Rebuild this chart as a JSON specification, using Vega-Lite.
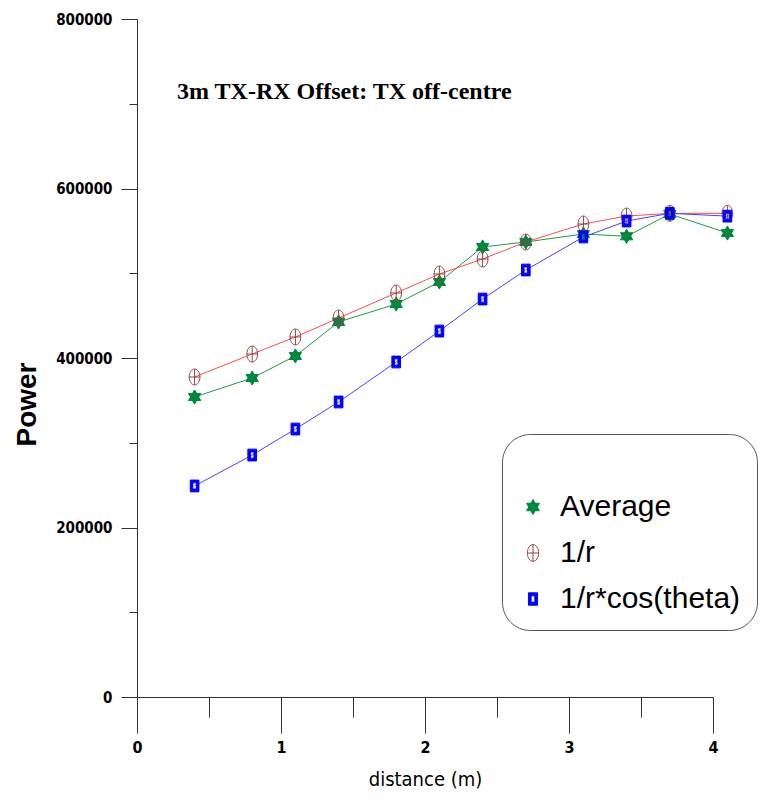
{
  "$schema": "https://vega.github.io/schema/vega-lite/v6.json",
  "width": 576,
  "height": 678,
  "autosize": {"type": "none"},
  "padding": {"left": 137, "top": 19, "right": 59, "bottom": 104},
  "background": "white",
  "title": {
    "text": "3m TX-RX Offset: TX off-centre",
    "anchor": "start",
    "frame": "group",
    "font": "Liberation Serif",
    "fontSize": 24,
    "fontWeight": "bold",
    "color": "black",
    "offset": 0,
    "dx": 40,
    "dy": 92
  },
  "config": {
    "view": {"stroke": null},
    "legend": {
      "orient": "none",
      "legendX": 365,
      "legendY": 415,
      "strokeColor": "#555",
      "strokeWidth": 1,
      "cornerRadius": 28,
      "padding": 16,
      "rowPadding": 16,
      "labelFont": "Liberation Sans",
      "labelFontSize": 30,
      "labelColor": "black",
      "labelLimit": 400,
      "symbolSize": 330,
      "symbolStrokeWidth": 1,
      "labelOffset": 12,
      "titleFontSize": 20,
      "titlePadding": 22
    }
  },
  "data": {
    "values": [
      {"series": "Average", "x": 0.4, "y": 354000},
      {"series": "Average", "x": 0.8, "y": 376400},
      {"series": "Average", "x": 1.1, "y": 402400},
      {"series": "Average", "x": 1.4, "y": 442500},
      {"series": "Average", "x": 1.8, "y": 463700},
      {"series": "Average", "x": 2.1, "y": 489700},
      {"series": "Average", "x": 2.4, "y": 531000},
      {"series": "Average", "x": 2.7, "y": 536900},
      {"series": "Average", "x": 3.1, "y": 546300},
      {"series": "Average", "x": 3.4, "y": 543600},
      {"series": "Average", "x": 3.7, "y": 569900},
      {"series": "Average", "x": 4.1, "y": 547500},
      {"series": "1/r", "x": 0.4, "y": 377600},
      {"series": "1/r", "x": 0.8, "y": 404700},
      {"series": "1/r", "x": 1.1, "y": 424800},
      {"series": "1/r", "x": 1.4, "y": 447200},
      {"series": "1/r", "x": 1.8, "y": 476700},
      {"series": "1/r", "x": 2.1, "y": 499100},
      {"series": "1/r", "x": 2.4, "y": 516800},
      {"series": "1/r", "x": 2.7, "y": 536900},
      {"series": "1/r", "x": 3.1, "y": 558100},
      {"series": "1/r", "x": 3.4, "y": 567500},
      {"series": "1/r", "x": 3.7, "y": 570700},
      {"series": "1/r", "x": 4.1, "y": 570700},
      {"series": "1/r*cos(theta)", "x": 0.4, "y": 249000},
      {"series": "1/r*cos(theta)", "x": 0.8, "y": 285500},
      {"series": "1/r*cos(theta)", "x": 1.1, "y": 316200},
      {"series": "1/r*cos(theta)", "x": 1.4, "y": 348100},
      {"series": "1/r*cos(theta)", "x": 1.8, "y": 395300},
      {"series": "1/r*cos(theta)", "x": 2.1, "y": 431800},
      {"series": "1/r*cos(theta)", "x": 2.4, "y": 469600},
      {"series": "1/r*cos(theta)", "x": 2.7, "y": 503800},
      {"series": "1/r*cos(theta)", "x": 3.1, "y": 542800},
      {"series": "1/r*cos(theta)", "x": 3.4, "y": 561600},
      {"series": "1/r*cos(theta)", "x": 3.7, "y": 570700},
      {"series": "1/r*cos(theta)", "x": 4.1, "y": 567400}
    ]
  },
  "encoding": {
    "x": {
      "field": "x",
      "type": "quantitative",
      "scale": {"domain": [0, 4], "nice": false, "zero": false},
      "axis": {
        "values": [0, 0.5, 1, 1.5, 2, 2.5, 3, 3.5, 4],
        "format": ".0f",
        "labelExpr": "datum.value % 1 === 0 ? datum.label : ''",
        "labelFlush": false,
        "tickSize": {"condition": {"test": "datum.value % 1 === 0", "value": 36}, "value": 20},
        "labelPadding": 6,
        "labelFont": "DejaVu Sans Condensed",
        "labelFontSize": 16,
        "labelFontWeight": "bold",
        "labelColor": "black",
        "domainColor": "#333",
        "tickColor": "#333",
        "grid": false,
        "title": "distance (m)",
        "titleFont": "DejaVu Sans Condensed",
        "titleFontSize": 20,
        "titleFontWeight": "normal",
        "titleColor": "black",
        "titleBaseline": "alphabetic",
        "titleY": 88
      }
    },
    "y": {
      "field": "y",
      "type": "quantitative",
      "scale": {"domain": [0, 800000], "nice": false},
      "axis": {
        "values": [0, 100000, 200000, 300000, 400000, 500000, 600000, 700000, 800000],
        "format": "d",
        "labelExpr": "datum.value % 200000 === 0 ? datum.label : ''",
        "labelFlush": false,
        "tickSize": {"condition": {"test": "datum.value % 200000 === 0", "value": 16}, "value": 8},
        "labelPadding": 9,
        "labelFont": "DejaVu Sans Condensed",
        "labelFontSize": 15,
        "labelFontWeight": "bold",
        "labelColor": "black",
        "domainColor": "#333",
        "tickColor": "#333",
        "grid": false,
        "title": "Power",
        "titleFont": "Liberation Sans",
        "titleFontSize": 28,
        "titleFontWeight": "bold",
        "titleColor": "black",
        "titleAngle": -90,
        "titleAlign": "center",
        "titleBaseline": "middle",
        "titleX": -110,
        "titleY": 385
      }
    }
  },
  "layer": [
    {
      "mark": {"type": "line", "strokeWidth": 1},
      "encoding": {
        "detail": {"field": "series", "type": "nominal"},
        "stroke": {
          "condition": [
            {"test": "datum.series === 'Average'", "value": "#1E9A4A"},
            {"test": "datum.series === '1/r'", "value": "#FF4A4A"}
          ],
          "value": "#4444FF"
        }
      }
    },
    {
      "mark": {"type": "point", "filled": false, "strokeWidth": 1, "size": 300, "opacity": 1},
      "encoding": {
        "shape": {
          "field": "series",
          "type": "nominal",
          "scale": {
            "domain": ["Average", "1/r", "1/r*cos(theta)"],
            "range": [
              "M0,-0.82L0.71,0.41L-0.71,0.41Z M0,0.82L-0.71,-0.41L0.71,-0.41Z",
              "M0,-0.92A0.62,0.92,0,1,1,0,0.92A0.62,0.92,0,1,1,0,-0.92Z M0,-0.92L0,0.92 M-0.62,0L0.62,0",
              "M-0.5,-0.68L0.5,-0.68L0.5,0.68L-0.5,0.68Z M-0.2,-0.36L-0.2,0.36L0.2,0.36L0.2,-0.36Z"
            ]
          },
          "legend": {"title": " "}
        },
        "color": {
          "field": "series",
          "type": "nominal",
          "scale": {"domain": ["Average", "1/r", "1/r*cos(theta)"], "range": ["#00883C", "#8E4646", "#0000FF"]},
          "legend": {"title": " "}
        },
        "fill": {
          "field": "series",
          "type": "nominal",
          "scale": {"domain": ["Average", "1/r", "1/r*cos(theta)"], "range": ["#00883C", "transparent", "#0000FF"]},
          "legend": {"title": " "}
        }
      }
    }
  ]
}
